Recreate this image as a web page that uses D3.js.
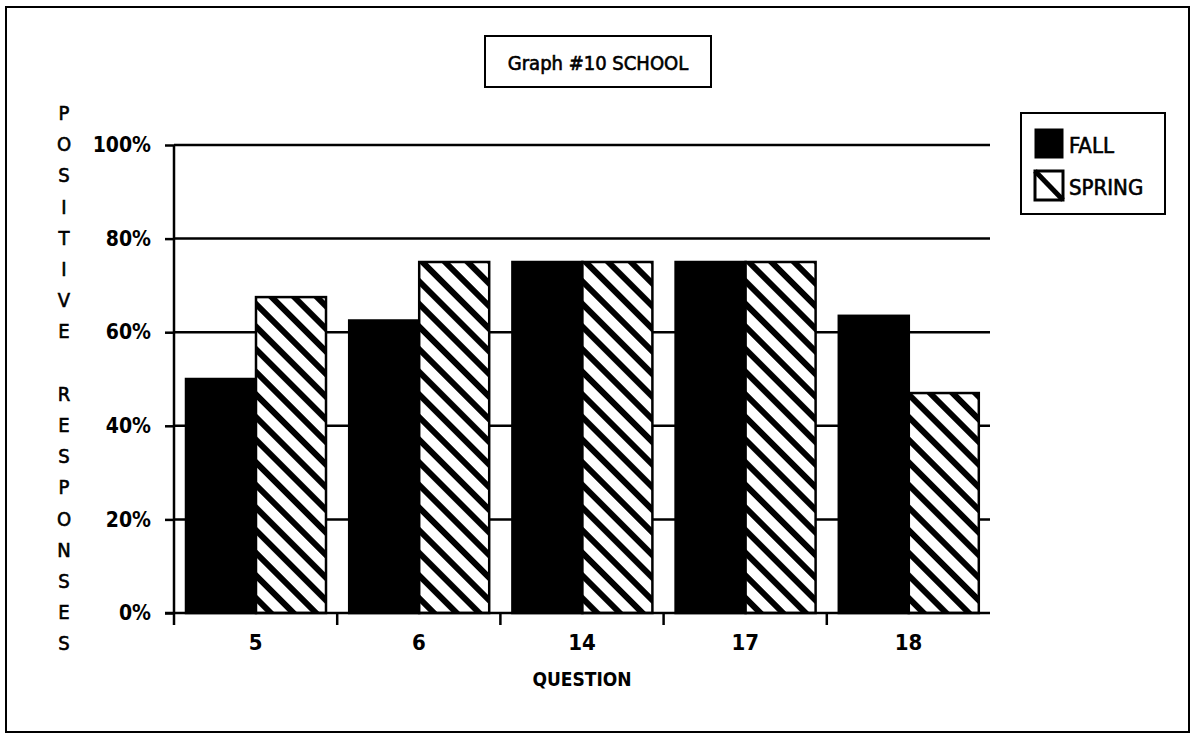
<!DOCTYPE html>
<html>
<head>
<meta charset="utf-8">
<script src="https://cdn.jsdelivr.net/npm/d3@7"></script>
<style>
  html, body { margin: 0; padding: 0; background: #fff; }
  svg { display: block; }
  text { fill: #000; font-family: "DejaVu Sans Condensed", "DejaVu Sans", sans-serif; }
  .thick { stroke: #000; stroke-width: 0.6px; }
</style>
</head>
<body>
<svg id="chart" width="1194" height="735"></svg>
<script>
// ---- data ----
const categories = ["5", "6", "14", "17", "18"];
const fallValues = [50, 62.5, 75, 75, 63.5];
const springValues = [67.5, 75, 75, 75, 47];
const seriesNames = ["FALL", "SPRING"];
const yTickValues = [0, 20, 40, 60, 80, 100];
const titleText = "Graph #10 SCHOOL";
const xAxisTitle = "QUESTION";
const yAxisTitle = "POSITIVE RESPONSES";

const svg = d3.select("#chart");

// outer frame
svg.append("rect").attr("x", 6).attr("y", 7).attr("width", 1183).attr("height", 725)
  .attr("fill", "none").attr("stroke", "#000").attr("stroke-width", 2);

// scales
const x = d3.scaleBand().domain(categories).range([174, 990]).padding(0);
const x1 = d3.scaleBand().domain(seriesNames).range([12, 152]).padding(0);
const y = d3.scaleLinear().domain([0, 100]).range([613, 145]);

// hatch pattern
const defs = svg.append("defs");
const pat = defs.append("pattern").attr("id", "hatch")
  .attr("patternUnits", "userSpaceOnUse").attr("width", 16).attr("height", 16)
  .attr("patternTransform", "rotate(-45)");
pat.append("rect").attr("width", 16).attr("height", 16).attr("fill", "#fff");
pat.append("rect").attr("x", 0).attr("width", 6).attr("height", 16).attr("fill", "#000");

// gridlines
svg.append("g").selectAll("line").data(yTickValues.filter(d => d > 0)).join("line")
  .attr("x1", 174).attr("x2", 990)
  .attr("y1", d => y(d)).attr("y2", d => y(d))
  .attr("stroke", "#000").attr("stroke-width", 2.5);

// bars
const rows = categories.map((c, i) => ({ cat: c, values: [
  { key: "FALL", v: fallValues[i] }, { key: "SPRING", v: springValues[i] } ] }));
const groups = svg.append("g").selectAll("g").data(rows).join("g")
  .attr("transform", d => `translate(${x(d.cat)},0)`);
groups.selectAll("rect").data(d => d.values).join("rect")
  .attr("x", d => x1(d.key)).attr("width", x1.bandwidth())
  .attr("y", d => y(d.v)).attr("height", d => y(0) - y(d.v))
  .attr("fill", d => d.key === "FALL" ? "#000" : "url(#hatch)")
  .attr("stroke", "#000").attr("stroke-width", 2.5);

// y axis
const yAxis = d3.axisLeft(y).tickValues(yTickValues).tickFormat(d => d + "%").tickSize(9).tickPadding(14);
const gy = svg.append("g").attr("transform", "translate(174,0)").call(yAxis);
gy.select(".domain").attr("stroke-width", 2.5).attr("d", `M0,${y(100)}V${y(0) + 12}`);
gy.selectAll(".tick line").attr("stroke-width", 2.5);
gy.selectAll(".tick text").style("font-size", "21px").style("font-weight", "bold")
  .style("font-family", '"DejaVu Sans Condensed", "DejaVu Sans", sans-serif');

// x axis line
svg.append("line").attr("x1", 165).attr("x2", 990).attr("y1", y(0)).attr("y2", y(0))
  .attr("stroke", "#000").attr("stroke-width", 2.5);
// x ticks at band boundaries
svg.append("g").selectAll("line").data(categories.slice(1)).join("line")
  .attr("x1", d => x(d)).attr("x2", d => x(d))
  .attr("y1", y(0)).attr("y2", y(0) + 12)
  .attr("stroke", "#000").attr("stroke-width", 2.5);
// x labels
svg.append("g").selectAll("text").data(categories).join("text")
  .attr("x", d => x(d) + x.bandwidth() / 2).attr("y", 650)
  .attr("text-anchor", "middle").style("font-size", "22px").style("font-weight", "bold")
  .text(d => d);
svg.append("text").attr("x", (x.range()[0] + x.range()[1]) / 2).attr("y", 686)
  .attr("text-anchor", "middle").style("font-size", "19px").style("font-weight", "bold")
  .text(xAxisTitle);

// y axis title (stacked letters)
const letters = yAxisTitle.split("");
svg.append("g").selectAll("text").data(letters).join("text")
  .attr("class", "thick")
  .attr("x", 64).attr("y", (d, i) => 113 + i * 31.2)
  .attr("text-anchor", "middle").attr("dominant-baseline", "central")
  .style("font-size", "20px")
  .text(d => d);

// title box
svg.append("rect").attr("x", 485).attr("y", 36).attr("width", 226).attr("height", 51)
  .attr("fill", "#fff").attr("stroke", "#000").attr("stroke-width", 2);
svg.append("text").attr("class", "thick").attr("x", 598).attr("y", 70).attr("text-anchor", "middle")
  .style("font-size", "20px").text(titleText);

// legend
const lg = svg.append("g");
lg.append("rect").attr("x", 1021).attr("y", 113).attr("width", 144).attr("height", 101)
  .attr("fill", "#fff").attr("stroke", "#000").attr("stroke-width", 2);
const items = lg.selectAll("g").data(seriesNames).join("g")
  .attr("transform", (d, i) => `translate(1035,${129 + i * 42})`);
items.append("rect").attr("width", 28).attr("height", 29)
  .attr("fill", d => d === "FALL" ? "#000" : "#fff")
  .attr("stroke", "#000").attr("stroke-width", d => d === "FALL" ? 1 : 3);
items.filter(d => d === "SPRING").append("line")
  .attr("x1", 0).attr("y1", 0).attr("x2", 28).attr("y2", 29)
  .attr("stroke", "#000").attr("stroke-width", 5);
items.append("text").attr("class", "thick").attr("x", 34).attr("y", 16).attr("dominant-baseline", "central")
  .style("font-size", "22px").text(d => d);
</script>
</body>
</html>
